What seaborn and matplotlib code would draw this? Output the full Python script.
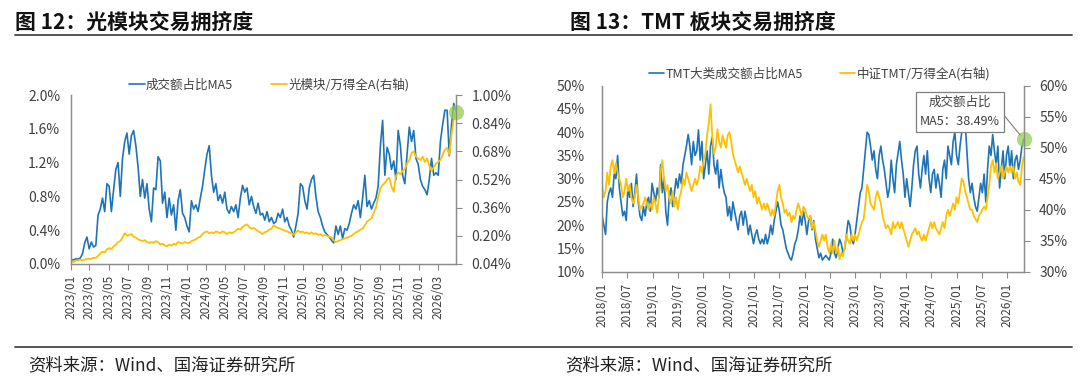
import pandas as pd
import seaborn as sns
import matplotlib.pyplot as plt
import matplotlib.dates as mdates
from matplotlib.lines import Line2D
from matplotlib.ticker import FuncFormatter, FixedLocator

sns.set_style("white")
plt.rcParams['font.family'] = ['Noto Sans CJK SC', 'DejaVu Sans']

BLUE = "#1F74B8"
GOLD = "#FFC000"
GREEN = "#92D050"
GRAY = "#8C8C8C"
TXT = "#404040"

# ---- 图12 光模块 (weekly, 2023/01 - 2026/04) ----
opt_share_ma5 = [
    0.05, 0.05, 0.06, 0.06, 0.07, 0.12, 0.25, 0.32, 0.18, 0.26,
    0.20, 0.22, 0.58, 0.65, 0.78, 0.62, 0.95, 0.92, 0.62, 0.88,
    1.12, 1.20, 0.80, 1.25, 1.45, 1.55, 1.30, 1.52, 1.58, 1.40,
    1.15, 0.80, 1.00, 0.78, 0.95, 0.65, 0.50, 0.90, 0.88, 1.27,
    1.22, 0.72, 0.85, 0.55, 0.78, 0.58, 0.70, 0.40, 0.75, 0.88,
    0.60, 0.55, 0.45, 0.38, 0.75, 0.65, 0.70, 0.62, 0.78, 0.92,
    1.12, 1.30, 1.40, 1.05, 0.85, 0.95, 0.75, 0.82, 0.72, 0.85,
    0.65, 0.60, 0.68, 0.62, 0.70, 0.55, 0.78, 0.93, 0.85, 0.90,
    0.70, 0.80, 0.68, 0.60, 0.72, 0.58, 0.60, 0.52, 0.62, 0.50,
    0.55, 0.48, 0.50, 0.60, 0.55, 0.65, 0.50, 0.55, 0.45, 0.40,
    0.32, 0.45, 0.60, 0.95, 0.92, 0.75, 0.65, 0.90, 1.00, 1.05,
    0.80, 0.62, 0.55, 0.45, 0.38, 0.35, 0.32, 0.28, 0.25, 0.45,
    0.35, 0.45, 0.30, 0.42, 0.40, 0.48, 0.60, 0.70, 0.65, 0.75,
    0.55, 0.78, 1.05, 0.68, 0.75, 0.65, 0.72, 0.78, 0.92, 1.40,
    1.70, 1.05, 1.38, 1.30, 1.12, 1.22, 1.00, 1.58, 1.40, 1.05,
    0.95, 1.30, 1.62, 1.45, 1.58, 1.25, 1.18, 1.00, 0.92, 0.88,
    0.82, 1.00, 1.25, 1.05, 1.08, 1.05, 1.45, 1.65, 1.82, 1.82,
    1.28, 1.65, 1.90, 1.80,
]
opt_rel_wind = [
    0.055, 0.05, 0.06, 0.06, 0.065, 0.06,
    0.065, 0.07, 0.07, 0.07, 0.075, 0.075,
    0.085, 0.10, 0.11, 0.105, 0.125, 0.13,
    0.125, 0.14, 0.15, 0.165, 0.17, 0.19,
    0.215, 0.20, 0.205, 0.21, 0.195, 0.19,
    0.18, 0.175, 0.17, 0.175, 0.165, 0.16,
    0.165, 0.16, 0.17, 0.165, 0.15, 0.155,
    0.145, 0.14, 0.15, 0.145, 0.155, 0.15,
    0.165, 0.16, 0.155, 0.165, 0.16, 0.16,
    0.17, 0.175, 0.18, 0.19, 0.195, 0.21,
    0.22, 0.225, 0.215, 0.22, 0.215, 0.225,
    0.22, 0.215, 0.225, 0.22, 0.21, 0.22,
    0.215, 0.22, 0.23, 0.24, 0.235, 0.25,
    0.26, 0.265, 0.25, 0.24, 0.245, 0.235,
    0.225, 0.22, 0.21, 0.22, 0.225, 0.235,
    0.24, 0.26, 0.25, 0.245, 0.24, 0.235,
    0.23, 0.225, 0.22, 0.215, 0.205, 0.22,
    0.23, 0.22, 0.225, 0.215, 0.22, 0.21,
    0.22, 0.21, 0.215, 0.205, 0.21, 0.20,
    0.205, 0.20, 0.195, 0.19, 0.175, 0.165,
    0.17, 0.175, 0.18, 0.185, 0.19, 0.195,
    0.20, 0.21, 0.22, 0.225, 0.235, 0.24,
    0.26, 0.28, 0.29, 0.30, 0.33, 0.36,
    0.42, 0.47, 0.49, 0.50, 0.52, 0.53,
    0.48, 0.45, 0.54, 0.56, 0.55, 0.57,
    0.58, 0.61, 0.63, 0.67, 0.68, 0.65,
    0.64, 0.63, 0.65, 0.62, 0.64, 0.60,
    0.57, 0.59, 0.61, 0.62, 0.63, 0.66,
    0.69, 0.70, 0.66, 0.78, 0.86, 0.91,
]

# ---- 图13 TMT (about every 12 days, 2018/01 - 2026/04) ----
tmt_share_ma5 = [
    22, 20, 18, 25, 27, 28, 26, 31, 30, 35,
    28, 25, 22, 23, 21, 28, 26, 29, 24, 27,
    31, 25, 22, 21, 24, 22, 25, 26, 23, 29,
    27, 25, 28, 26, 33, 27, 30, 23, 20, 26,
    28, 24, 27, 30, 28, 31, 29, 33, 35, 37,
    39.5, 37, 33, 38, 35, 36, 40.5, 34, 38, 30,
    33, 36, 31, 37, 39, 33, 31, 34, 28, 32,
    29, 27, 26, 22, 24, 21, 25, 23, 21, 19,
    22, 23, 20, 23, 21, 18, 20, 18, 16, 18,
    19, 17, 16, 17, 16, 18, 16, 17.5, 20, 18,
    21, 23, 25, 23, 20, 19, 17, 15, 14, 13,
    12.5, 14, 16, 17, 19, 22, 20, 23, 21, 18,
    21, 22, 19, 21, 17, 15, 13, 14, 12.5, 13,
    13.5, 13, 12.5, 14, 17, 14, 13, 15, 17, 16,
    14, 15, 18, 21, 20, 17, 16, 18, 21, 24,
    27, 28, 32, 36, 40, 39.5, 37, 34, 36, 32,
    30, 35, 37, 34, 32, 29, 26, 28, 34, 30,
    27, 33, 35.5, 38, 34, 31, 26, 30, 27, 24,
    28, 33, 36, 37, 31, 28, 32, 35, 31, 36,
    30, 27, 31, 32, 28, 31, 29, 26, 32, 34,
    30, 37, 35, 33, 38, 40, 35, 33, 37, 40,
    44.5, 42, 36, 30, 27, 29, 26, 24, 23, 26,
    29, 27, 31, 25, 32, 37, 35, 39.5, 36, 33,
    37, 28, 32, 36, 30, 35, 37, 32, 36, 30,
    34, 35, 32, 34, 37, 38.49,
]
tmt_rel_wind = [
    44, 42, 43, 46, 44, 47, 48, 46, 47.5, 46,
    45, 44, 42, 43, 45, 43, 44, 42, 41, 42,
    44, 42, 40, 40.5, 41, 42, 41, 40, 41, 40,
    42, 41, 39.5, 42, 46, 48, 45, 43, 44, 42,
    41, 43, 40.5, 42, 40, 42, 43, 45, 44, 46,
    45, 44, 43, 44, 45, 44, 45, 47, 46, 48,
    49, 52, 54, 57, 52, 49, 50, 53, 51, 50,
    52, 51, 50, 52, 52.5, 51, 49, 48, 47, 46,
    47, 46, 45, 44, 45, 44, 43, 44, 42, 43,
    41, 42, 41, 40, 41, 40, 41, 40, 39, 40,
    39, 41, 43, 44, 42, 41, 39.5, 40, 39, 39.5,
    38, 39, 38.5, 40, 41, 40, 39, 40.5, 40, 39,
    38.5, 39, 37, 38, 36.5, 35, 34, 35, 36, 35,
    36, 34, 33, 34.5, 33, 35, 33, 34, 32, 33,
    32.5, 34, 36, 35, 34.5, 36, 35, 36, 35, 36,
    37, 38, 38.5, 41, 44, 43, 41, 40.5, 40, 42,
    43, 42, 41, 39, 38, 37, 37.5, 37, 36, 38,
    37, 37.5, 38, 37, 38, 37, 36, 35, 34, 35,
    36, 36.5, 37, 36, 36.5, 35.5, 35, 36, 35, 36,
    37, 38, 37, 38, 37, 36.5, 36, 37, 38, 37,
    39, 40, 39, 40, 41, 40, 42, 41, 43, 45,
    44.5, 43, 42, 41, 40, 40, 39, 38.5, 38, 39,
    39.5, 40, 40.5, 40, 42, 44, 47, 48, 46, 47.5,
    45, 46, 47, 45, 46, 47, 46, 47, 46, 47,
    45, 46, 44.5, 44, 47, 48.5,
]

opt_dates = pd.date_range("2023-01-03", "2026-04-28", periods=len(opt_share_ma5))
tmt_dates = pd.date_range("2018-01-02", "2026-04-28", periods=len(tmt_share_ma5))

fig = plt.figure(figsize=(10.8, 3.85), dpi=100)


def style_axes(ax, ax2):
    for a in (ax, ax2):
        a.spines['top'].set_visible(False)
        for s in ('left', 'right', 'bottom'):
            a.spines[s].set_color(GRAY)
            a.spines[s].set_linewidth(0.9)
        a.grid(False)
        a.set_xlabel("")
        a.set_ylabel("")
    ax.tick_params(axis='y', left=False, labelsize=10, colors=TXT, pad=4)
    ax2.tick_params(axis='y', right=True, length=4, width=0.8, color=GRAY,
                    labelsize=10, labelcolor=TXT, pad=7)
    ax.tick_params(axis='x', bottom=True, length=4, width=0.8, color=GRAY,
                   labelsize=8.5, labelcolor=TXT, labelrotation=90, pad=4)


# ---------- left panel ----------
ax1 = fig.add_axes([0.0655, 0.3143, 0.3567, 0.4389])
ax1b = ax1.twinx()
sns.lineplot(x=opt_dates, y=opt_share_ma5, ax=ax1, color=BLUE, linewidth=1.2,
             label="成交额占比MA5", legend=False)
sns.lineplot(x=opt_dates, y=opt_rel_wind, ax=ax1b, color=GOLD, linewidth=1.3,
             label="光模块/万得全A(右轴)", legend=False)
ax1.set_xlim(pd.Timestamp("2023-01-01"), pd.Timestamp("2026-04-28"))
ax1.set_ylim(0, 2.0)
ax1.yaxis.set_major_locator(FixedLocator([0, 0.4, 0.8, 1.2, 1.6, 2.0]))
ax1.yaxis.set_major_formatter(FuncFormatter(lambda v, p: f"{v:.1f}%"))
ax1b.set_ylim(0.04, 1.00)
ax1b.yaxis.set_major_locator(FixedLocator([0.04, 0.20, 0.36, 0.52, 0.68, 0.84, 1.00]))
ax1b.yaxis.set_major_formatter(FuncFormatter(lambda v, p: f"{v:.2f}%"))
ax1.xaxis.set_major_locator(mdates.MonthLocator(bymonth=[1, 3, 5, 7, 9, 11]))
ax1.xaxis.set_major_formatter(mdates.DateFormatter("%Y/%m"))
style_axes(ax1, ax1b)
ax1b.plot([opt_dates[-1]], [opt_share_ma5[-1]], 'o', transform=ax1.transData,
          color=GREEN, alpha=0.75, markersize=11, markeredgewidth=0, clip_on=False)

h1 = ax1.get_lines() + ax1b.get_lines()[:1]
fig.legend(handles=h1, labels=[l.get_label() for l in h1], loc='center',
           bbox_to_anchor=(0.249, 0.779), ncol=2, frameon=False, fontsize=9,
           handlelength=1.3, handletextpad=0.1, columnspacing=3.0,
           labelcolor=TXT)

# ---------- right panel ----------
ax2 = fig.add_axes([0.5574, 0.2943, 0.3907, 0.4831])
ax2b = ax2.twinx()
sns.lineplot(x=tmt_dates, y=tmt_share_ma5, ax=ax2, color=BLUE, linewidth=1.2,
             label="TMT大类成交额占比MA5", legend=False)
sns.lineplot(x=tmt_dates, y=tmt_rel_wind, ax=ax2b, color=GOLD, linewidth=1.3,
             label="中证TMT/万得全A(右轴)", legend=False)
ax2.set_xlim(pd.Timestamp("2018-01-01"), pd.Timestamp("2026-04-30"))
ax2.set_ylim(10, 50)
ax2.yaxis.set_major_locator(FixedLocator(list(range(10, 51, 5))))
ax2.yaxis.set_major_formatter(FuncFormatter(lambda v, p: f"{v:.0f}%"))
ax2b.set_ylim(30, 60)
ax2b.yaxis.set_major_locator(FixedLocator(list(range(30, 61, 5))))
ax2b.yaxis.set_major_formatter(FuncFormatter(lambda v, p: f"{v:.0f}%"))
ax2.xaxis.set_major_locator(mdates.MonthLocator(bymonth=[1, 7]))
ax2.xaxis.set_major_formatter(mdates.DateFormatter("%Y/%m"))
style_axes(ax2, ax2b)
ax2.tick_params(axis='y', pad=9)
ax2b.plot([tmt_dates[-1]], [tmt_share_ma5[-1]], 'o', transform=ax2.transData,
          color=GREEN, alpha=0.75, markersize=11, markeredgewidth=0, clip_on=False)
ax2b.annotate(f"成交额占比\nMA5：{tmt_share_ma5[-1]:.2f}%",
              xy=(mdates.date2num(tmt_dates[-1]), tmt_share_ma5[-1]),
              xycoords=ax2.transData, xytext=(960, 273),
              textcoords='figure pixels', ha='center', va='center',
              fontsize=9, color=TXT, linespacing=1.55,
              bbox=dict(boxstyle='square,pad=0.35', fc='white', ec='#7F7F7F', lw=0.9),
              arrowprops=dict(arrowstyle='-', color='#7F7F7F', lw=0.8,
                              relpos=(1.0, 0.55), shrinkA=0, shrinkB=4))

h2 = ax2.get_lines() + ax2b.get_lines()[:1]
fig.legend(handles=h2, labels=[l.get_label() for l in h2], loc='center',
           bbox_to_anchor=(0.759, 0.809), ncol=2, frameon=False, fontsize=9,
           handlelength=1.2, handletextpad=0.1, columnspacing=3.0,
           labelcolor=TXT)

# ---------- titles, rules, sources ----------
fig.text(15 / 1080, 0.942, "图 12：光模块交易拥挤度", fontsize=15,
         fontweight='bold', va='center', ha='left', color='#111111')
fig.text(570 / 1080, 0.942, "图 13：TMT 板块交易拥挤度", fontsize=15,
         fontweight='bold', va='center', ha='left', color='#111111')
for yy in (1 - 35 / 385, 1 - 347 / 385):
    fig.add_artist(Line2D([15 / 1080, 1072 / 1080], [yy, yy], transform=fig.transFigure,
                          color='#555555', linewidth=1.4))
fig.text(28 / 1080, 1 - 365 / 385, "资料来源：Wind、国海证券研究所", fontsize=12.5,
         va='center', ha='left', color='#222222')
fig.text(565 / 1080, 1 - 365 / 385, "资料来源：Wind、国海证券研究所", fontsize=12.5,
         va='center', ha='left', color='#222222')

plt.savefig("out.png", dpi=100)
